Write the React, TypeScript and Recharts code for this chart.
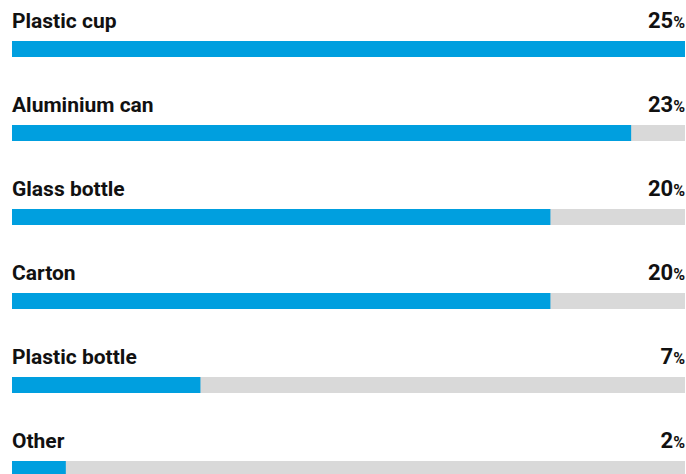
import { Bar, BarChart, LabelList, XAxis, YAxis } from "recharts";

const categories = [
  "Plastic cup",
  "Aluminium can",
  "Glass bottle",
  "Carton",
  "Plastic bottle",
  "Other",
];
const shares = [25, 23, 20, 20, 7, 2];

const data = categories.map((name, i) => ({ name, value: shares[i] }));

const FONT = "Roboto, sans-serif";

function NameLabel(props: any) {
  const { x, y, value } = props;
  return (
    <text
      x={x}
      y={y - 13}
      fill="#111"
      fontFamily={FONT}
      fontWeight={700}
      fontSize={21}
    >
      {value}
    </text>
  );
}

function ValueLabel(props: any) {
  const { y, value } = props;
  return (
    <text
      x={685}
      y={y - 13}
      textAnchor="end"
      fill="#111"
      fontFamily={FONT}
      fontWeight={700}
      fontSize={22}
    >
      {value}
      <tspan fontSize={16}>%</tspan>
    </text>
  );
}

export default function App() {
  return (
    <div style={{ position: "absolute", left: 0, top: 0 }}>
      <BarChart
        width={686}
        height={511}
        data={data}
        layout="vertical"
        margin={{ top: 7, right: 1, bottom: 0, left: 12 }}
        barCategoryGap={0}
      >
        <XAxis type="number" domain={[0, 25]} hide />
        <YAxis type="category" dataKey="name" hide />
        <Bar
          dataKey="value"
          fill="#009fdf"
          barSize={16}
          background={{ fill: "#d9d9d9" }}
          isAnimationActive={false}
        >
          <LabelList dataKey="name" content={<NameLabel />} />
          <LabelList dataKey="value" content={<ValueLabel />} />
        </Bar>
      </BarChart>
    </div>
  );
}
